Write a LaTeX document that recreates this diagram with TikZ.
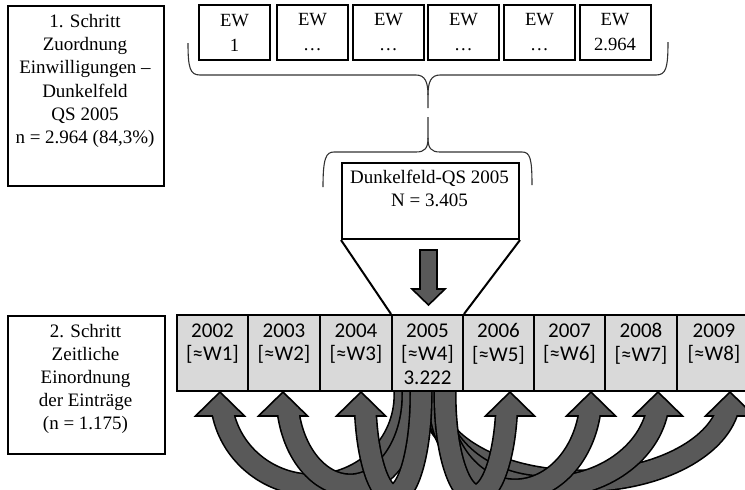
\documentclass[tikz,border=0pt]{standalone}
\usepackage{fontspec}
\setmainfont{Liberation Serif}
\newfontfamily\cellfont{Carlito}
\definecolor{cellgray}{RGB}{217,217,217}
\definecolor{arrowgray}{RGB}{89,89,89}
\definecolor{bracegray}{RGB}{50,50,50}

% one curved block arrow: tail under the 2005 cell, elliptic shaft, head below a target cell
% #1 name, #2 tail x, #3 x radius, #4 y radius, #5 start angle, #6 end angle, #7 tip x
\newcommand\bandarrow[7]{%
  \coordinate (tail#1) at (#2,380);
  \coordinate (tip#1) at (#7,392);
  \draw[bandline] (tail#1) -- ++(0,15) arc[start angle=#5,end angle=#6,x radius=#3,y radius=#4];
  \draw[headshape] (tip#1) -- ++(24.5,24) -- ++(-49,0) -- cycle;
  \draw[bandfill] (tail#1) -- ++(0,15) arc[start angle=#5,end angle=#6,x radius=#3,y radius=#4];
}

\begin{document}
\begin{tikzpicture}[x=0.5pt,y=-0.5pt,
  frame/.style={draw, line width=1pt, inner sep=0pt, anchor=north west},
  ewbox/.style={draw, line width=1pt, inner sep=0pt, minimum width=35.5pt, minimum height=27.5pt,
    align=center, font=\fontsize{9.3}{12.5}\selectfont},
  sertext/.style={inner sep=0pt, align=center, font=\fontsize{9.5}{11.6}\selectfont},
  cellbox/.style={draw, line width=1pt, fill=cellgray, inner sep=0pt, anchor=north west, minimum height=38pt},
  celltext/.style={inner sep=0pt, align=center, anchor=north, font=\cellfont\fontsize{10.5}{11.8}\selectfont},
  brace/.style={draw=bracegray, line width=0.55pt},
  funnel/.style={draw, line width=1pt},
  bandline/.style={line width=11.6pt, draw=black},
  bandfill/.style={line width=10pt, draw=arrowgray},
  headshape/.style={fill=arrowgray, draw=black, line width=0.8pt, line join=miter},
]
\useasboundingbox (0,0) rectangle (745,489);
\clip (0,0) rectangle (745,489);

% step 1
\node[frame, minimum width=78pt, minimum height=90pt] (step1) at (7,5) {};
\node[sertext, anchor=north] (step1text) at (85,14)
  {1. Schritt\\Zuordnung\\Einwilligungen –\\Dunkelfeld\\QS 2005\\n = 2.964 (84,3\%)};

% consent records
\node[ewbox] (ew1) at (234.5,32.5) {EW\\1};
\node[ewbox] (ew2) at (312.5,32.5) {EW\\\dots};
\node[ewbox] (ew3) at (388.5,32.5) {EW\\\dots};
\node[ewbox] (ew4) at (463.5,32.5) {EW\\\dots};
\node[ewbox] (ew5) at (539.5,32.5) {EW\\\dots};
\node[ewbox] (ew6) at (615,32.5) {EW\\2.964};

% upper brace
\draw[brace] (188,43) .. controls (188,68) and (190,75) .. (200,75) -- (416,75)
  .. controls (425,75) and (428,82) .. (428,95) -- (428,108);
\draw[brace] (668,42) .. controls (668,68) and (666,75) .. (656,75) -- (440,75)
  .. controls (431,75) and (428,82) .. (428,95);

% lower brace
\draw[brace] (428,117) -- (428,138) .. controls (428,148) and (425,152) .. (416,152) -- (334,152)
  .. controls (326,152) and (323,158) .. (323,187);
\draw[brace] (428,138) .. controls (428,148) and (431,152) .. (440,152) -- (522,152)
  .. controls (530,152) and (532,158) .. (532,185);

% dark-field sample
\node[frame, minimum width=88.5pt, minimum height=38pt] (dunkel) at (341,162) {};
\node[sertext, anchor=north] (dunkeltext) at (429.5,170) {Dunkelfeld-QS 2005\\N = 3.405};

% down arrow
\draw[headshape] (420,250) -- (437,250) -- (437,289) -- (445,289) -- (428.5,305)
  -- (412,289) -- (420,289) -- cycle;

% curved arrows from 2005 to the other years
\bandarrow{2002}{405}{92}{90}{0}{171.5}{220}
\bandarrow{2003}{413}{63}{90}{0}{171.5}{283}
\bandarrow{2009}{430}{150}{86}{180}{9}{730}
\bandarrow{2008}{435}{112}{92}{180}{8}{658}
\bandarrow{2007}{439}{76}{95}{180}{8}{591}
\bandarrow{2006}{445}{31}{100}{180}{7}{510}
\bandarrow{2004}{421}{28}{100}{0}{173}{361}

% step 2
\node[frame, minimum width=78.5pt, minimum height=69pt] (step2) at (7,315) {};
\node[sertext] (step2text) at (85.5,379)
  {2. Schritt\\Zeitliche\\Einordnung\\der Einträge\\(n = 1.175)};

% year cells
\foreach \name/\xl/\w/\txt in {
    2002/176/35.5/{2002\\{[}≈W1{]}},
    2003/247/36/{2003\\{[}≈W2{]}},
    2004/319/36/{2004\\{[}≈W3{]}},
    2005/391/35.5/{2005\\{[}≈W4{]}\\3.222},
    2006/462/35.5/{2006\\{[}≈W5{]}},
    2007/533/35.5/{2007\\{[}≈W6{]}},
    2008/604/36/{2008\\{[}≈W7{]}},
    2009/676/37/{2009\\{[}≈W8{]}}} {
  \node[cellbox, minimum width=\w pt] (c\name) at (\xl,314) {};
  \node[celltext] (t\name) at (c\name.north |- 0,323) {\txt};
}

% funnel
\draw[funnel] (dunkel.south west) -- (c2005.north west);
\draw[funnel] (dunkel.south east) -- (c2005.north east);
\end{tikzpicture}
\end{document}
